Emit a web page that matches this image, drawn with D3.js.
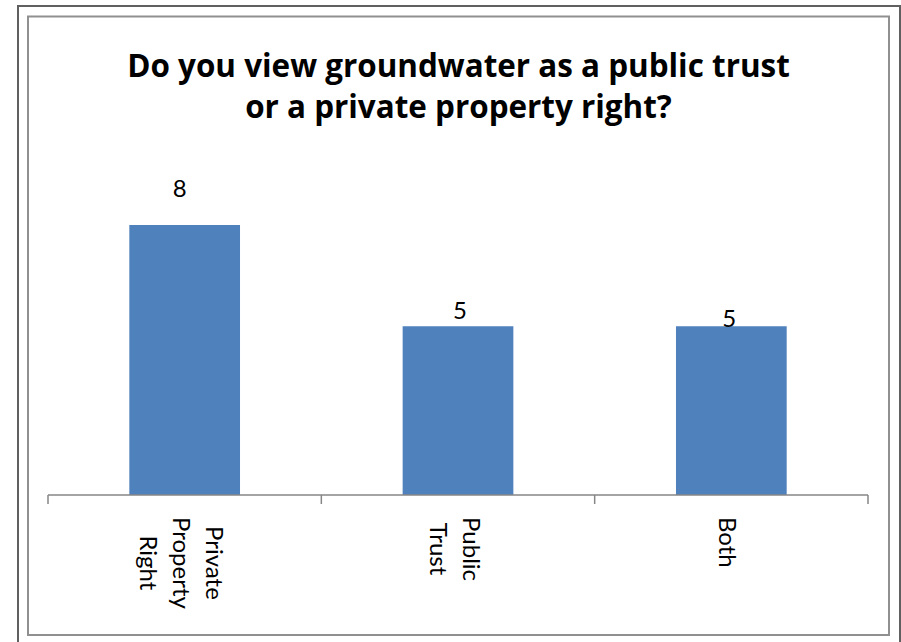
<!DOCTYPE html>
<html>
<head>
<meta charset="utf-8">
<script src="https://cdn.jsdelivr.net/npm/d3@7"></script>
<style>
  html, body { margin: 0; padding: 0; background: #fff; }
  svg { display: block; }
</style>
</head>
<body>
<svg id="chart" width="901" height="642"></svg>
<script>
// ---- data ----
const categories = ["Private Property Right", "Public Trust", "Both"];
const categoryLines = [["Private", "Property", "Right"], ["Public", "Trust"], ["Both"]];
const values = [8, 5, 5];
const titleLines = ["Do you view groundwater as a public trust", "or a private property right?"];

// ---- layout (not data) ----
const labelOffsets = [[-5, -28], [2, -7], [-2, 1]]; // data-label nudges, px
const plot = { left: 48, right: 868, base: 495, top: 157.5 };
const font = "Lato, 'Open Sans', sans-serif";
const titleFont = "'Open Sans', Lato, sans-serif";
const titleWidth = 663;

const svg = d3.select("#chart");

// borders
svg.append("rect").attr("x", 18).attr("y", 6).attr("width", 882).attr("height", 650)
  .attr("fill", "#fff").attr("stroke", "#606060").attr("stroke-width", 2);
svg.append("rect").attr("x", 28).attr("y", 16.5).attr("width", 861).attr("height", 618.5)
  .attr("fill", "#fff").attr("stroke", "#909090").attr("stroke-width", 2);

// scales
const x = d3.scaleBand().domain(categories).range([plot.left, plot.right])
  .paddingInner(0.595).paddingOuter(0.2975);
const y = d3.scaleLinear().domain([0, 10]).range([plot.base, plot.top]);

// title (font size fitted so first line spans the same width as the reference)
const title = svg.append("text").attr("text-anchor", "middle")
  .attr("font-family", titleFont).attr("font-weight", "bold").attr("font-size", 30)
  .attr("fill", "#000");
titleLines.forEach((t, i) => {
  title.append("tspan").attr("x", 458.5).attr("y", 77 + i * 41).text(t);
});
const w0 = title.select("tspan").node().getComputedTextLength();
title.attr("font-size", 30 * titleWidth / w0);

// bars
svg.append("g").selectAll("rect").data(values).join("rect")
  .attr("x", (d, i) => x(categories[i]))
  .attr("y", d => y(d))
  .attr("width", x.bandwidth())
  .attr("height", d => y(0) - y(d))
  .attr("fill", "#4F81BD");

// data labels
svg.append("g").selectAll("text").data(values).join("text")
  .attr("x", (d, i) => x(categories[i]) + x.bandwidth() / 2 + labelOffsets[i][0])
  .attr("y", (d, i) => y(d) + labelOffsets[i][1])
  .attr("text-anchor", "middle")
  .attr("font-family", font).attr("font-size", 24).attr("fill", "#000")
  .text(d => d);

// axis line and boundary ticks
const gap = (x.step() - x.bandwidth()) / 2;
const bounds = categories.map(c => x(c) - gap).concat([x(categories[categories.length - 1]) + x.bandwidth() + gap]);
const axis = svg.append("g").attr("stroke", "#868686").attr("stroke-width", 1.5);
axis.append("line").attr("x1", bounds[0]).attr("x2", bounds[bounds.length - 1])
  .attr("y1", plot.base).attr("y2", plot.base);
axis.selectAll("line.tick").data(bounds).join("line").attr("class", "tick")
  .attr("x1", d => d).attr("x2", d => d).attr("y1", plot.base).attr("y2", plot.base + 9);

// category labels, rotated 90deg clockwise
const lineGap = 33;
categories.forEach((c, i) => {
  const lines = categoryLines[i];
  const cx = x(c) + x.bandwidth() / 2 - 3;
  const g = svg.append("g");
  const t = g.append("text").attr("text-anchor", "middle")
    .attr("font-family", font).attr("font-size", 24).attr("fill", "#000");
  lines.forEach((ln, j) => {
    t.append("tspan").attr("x", 0).attr("y", (j - (lines.length - 1) / 2) * lineGap).text(ln);
  });
  const maxLen = d3.max(t.selectAll("tspan").nodes(), n => n.getComputedTextLength());
  const cy = plot.base + 22 + maxLen / 2;
  g.attr("transform", `translate(${cx - 9},${cy}) rotate(90)`);
});
</script>
</body>
</html>
